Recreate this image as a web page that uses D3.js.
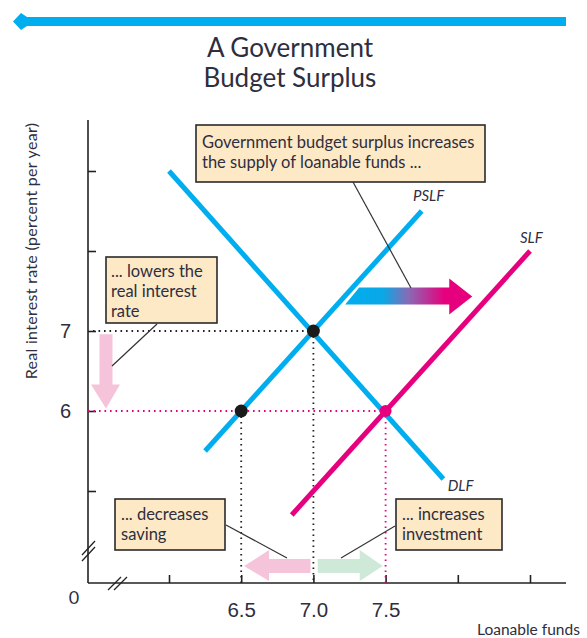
<!DOCTYPE html>
<html>
<head>
<meta charset="utf-8">
<script src="https://cdn.jsdelivr.net/npm/d3@7"></script>
<style>
  html, body { margin: 0; padding: 0; background: #fff; }
  svg { display: block; }
  text { font-family: Lato, "Open Sans", sans-serif; fill: #2e2e3e; }
</style>
</head>
<body>
<svg id="chart" width="587" height="638"></svg>
<script>
// ---- data ----
const xTickValues = [6.0, 6.5, 7.0, 7.5, 8.0, 8.5];
const xTickLabels = ["", "6.5", "7.0", "7.5", "", ""];
const yTickValues = [5, 6, 7, 8, 9];
const yTickLabels = ["", "6", "7", "", ""];

// curves: [loanable funds, real interest rate]
const dlfPoints  = [[6.0, 9.0], [7.9, 5.15]];
const pslfPoints = [[6.25, 5.5], [7.75, 8.5]];
const slfPoints  = [[6.85, 4.7], [8.5, 8.0]];

const curveNames = ["DLF", "PSLF", "SLF"];
const curveLabelAt = [[7.93, 5.0], [7.69, 8.62], [8.43, 8.1]];

// equilibria before and after the surplus
const oldEq = { x: 7.0, y: 7 };
const privateSaving = { x: 6.5, y: 6 };
const newEq = { x: 7.5, y: 6 };

// ---- layout ----
const svg = d3.select("#chart");
const axisX = 88, axisTop = 120, axisBottom = 583, axisRight = 566;

const x = d3.scaleLinear().domain([6.0, 8.5]).range([169, 530]);
const y = d3.scaleLinear().domain([5, 9]).range([491, 171]);

const BLUE = "#00aeef", PINK = "#e6007e", BOX = "#fde9c6", INK = "#2e2e3e";

// header bar with arrow point on the left
svg.append("path")
  .attr("d", "M13,21.5 L21,13 L27,17 L566,17 L566,26 L27,26 L21,30 Z")
  .attr("fill", BLUE);

// title
const title = svg.append("text")
  .attr("text-anchor", "middle")
  .style("font-size", "26px")
  .style("font-family", "Lato, sans-serif");
title.append("tspan").attr("x", 290).attr("y", 57).text("A Government");
title.append("tspan").attr("x", 290).attr("y", 87).text("Budget Surplus");

// axis lines
svg.append("line").attr("x1", axisX).attr("x2", axisX)
  .attr("y1", axisTop).attr("y2", axisBottom)
  .attr("stroke", "#222").attr("stroke-width", 1.6);
svg.append("line").attr("x1", axisX).attr("x2", axisRight)
  .attr("y1", axisBottom).attr("y2", axisBottom)
  .attr("stroke", "#222").attr("stroke-width", 1.6);

// axis breaks
const breaks = svg.append("g").attr("stroke", "#222").attr("stroke-width", 1.3);
[0, 6].forEach(o => {
  breaks.append("line").attr("x1", 82).attr("y1", 555 + o).attr("x2", 95).attr("y2", 541 + o);
  breaks.append("line").attr("x1", 108 + o).attr("y1", 590).attr("x2", 121 + o).attr("y2", 577);
});

// y axis ticks
const yAxis = d3.axisLeft(y)
  .tickValues(yTickValues)
  .tickFormat((d, i) => yTickLabels[i])
  .tickSize(-8)
  .tickPadding(17);
const gy = svg.append("g").attr("transform", `translate(${axisX},0)`).call(yAxis);
gy.select(".domain").remove();
gy.selectAll(".tick line").attr("stroke", "#222").attr("stroke-width", 1.6);
gy.selectAll(".tick text")
  .style("font-family", "'Liberation Sans', Arial, sans-serif")
  .style("font-size", "20px").attr("fill", INK);

// x axis ticks
const xAxis = d3.axisBottom(x)
  .tickValues(xTickValues)
  .tickFormat((d, i) => xTickLabels[i])
  .tickSize(-8)
  .tickPadding(19);
const gx = svg.append("g").attr("transform", `translate(0,${axisBottom})`).call(xAxis);
gx.select(".domain").remove();
gx.selectAll(".tick line").attr("stroke", "#222").attr("stroke-width", 1.6);
gx.selectAll(".tick text")
  .style("font-family", "'Liberation Sans', Arial, sans-serif")
  .style("font-size", "20.5px").attr("fill", INK);

// origin and axis titles
svg.append("text").attr("x", 74).attr("y", 604).attr("text-anchor", "middle")
  .style("font-size", "18px").text("0");
svg.append("text").attr("x", 477).attr("y", 635)
  .style("font-size", "15.5px").text("Loanable funds");
svg.append("text")
  .attr("transform", `translate(37,${(122 + 380) / 2}) rotate(-90)`)
  .attr("text-anchor", "middle")
  .style("font-size", "16px")
  .style("letter-spacing", "0.3px")
  .text("Real interest rate (percent per year)");

// dotted guide lines
const dotted = (x1, y1, x2, y2, color) =>
  svg.append("line").attr("x1", x1).attr("y1", y1).attr("x2", x2).attr("y2", y2)
    .attr("stroke", color).attr("stroke-width", 1.8)
    .attr("stroke-dasharray", "1.6,3.9");
dotted(axisX + 5, y(oldEq.y), x(oldEq.x), y(oldEq.y), "#222");
dotted(x(oldEq.x), y(oldEq.y), x(oldEq.x), axisBottom, "#222");
dotted(x(privateSaving.x), y(privateSaving.y), x(privateSaving.x), axisBottom, "#222");
dotted(axisX, y(newEq.y), x(newEq.x), y(newEq.y), PINK);
dotted(x(newEq.x), y(newEq.y), x(newEq.x), axisBottom, PINK);

// curves
const line = d3.line().x(d => x(d[0])).y(d => y(d[1]));
[[dlfPoints, BLUE], [pslfPoints, BLUE], [slfPoints, PINK]].forEach(([pts, c]) => {
  svg.append("path").attr("d", line(pts)).attr("fill", "none")
    .attr("stroke", c).attr("stroke-width", 5);
});

// curve labels
curveNames.forEach((n, i) => {
  svg.append("text")
    .attr("x", x(curveLabelAt[i][0])).attr("y", y(curveLabelAt[i][1]))
    .style("font-size", "15px").style("font-style", "italic")
    .text(n);
});

// equilibrium points
svg.append("circle").attr("cx", x(oldEq.x)).attr("cy", y(oldEq.y)).attr("r", 6.5).attr("fill", "#1b1b1b");
svg.append("circle").attr("cx", x(privateSaving.x)).attr("cy", y(privateSaving.y)).attr("r", 6.5).attr("fill", "#1b1b1b");
svg.append("circle").attr("cx", x(newEq.x)).attr("cy", y(newEq.y)).attr("r", 6).attr("fill", PINK);

// shift arrow from PSLF to SLF, blending blue into pink
const defs = svg.append("defs");
const grad = defs.append("linearGradient").attr("id", "shiftGrad")
  .attr("gradientUnits", "userSpaceOnUse")
  .attr("x1", x(7.22)).attr("x2", x(8.1)).attr("y1", 0).attr("y2", 0);
[[0, BLUE], [0.3, "#0aa7e6"], [0.5, "#8a6ab4"], [0.78, PINK], [1, PINK]].forEach(([o, c]) =>
  grad.append("stop").attr("offset", o).attr("stop-color", c));

const arrowY = y(7.43);
const ax0 = x(7.22), ax1 = x(8.1);
svg.append("path")
  .attr("d", `M${ax0 + 14},${arrowY - 9} L${ax1 - 23},${arrowY - 9} L${ax1 - 23},${arrowY - 18}
              L${ax1},${arrowY} L${ax1 - 23},${arrowY + 18} L${ax1 - 23},${arrowY + 8}
              L${ax0},${arrowY + 8} Z`)
  .attr("fill", "url(#shiftGrad)");

// interest rate falls: pink down arrow
const dx = 106, dTop = y(6.96), dTip = y(6.03);
svg.append("path")
  .attr("d", `M${dx - 6.5},${dTop} L${dx + 6.5},${dTop} L${dx + 6.5},${dTip - 24}
              L${dx + 14},${dTip - 24} L${dx},${dTip} L${dx - 15},${dTip - 24}
              L${dx - 6.5},${dTip - 24} Z`)
  .attr("fill", "#f5c4da");

// saving falls / investment rises arrows
const hy = 566;
const sL = x(6.52), sR = x(6.98);
svg.append("path")
  .attr("d", `M${sR},${hy - 7} L${sL + 25},${hy - 7} L${sL + 25},${hy - 16} L${sL},${hy}
              L${sL + 25},${hy + 15} L${sL + 25},${hy + 7} L${sR},${hy + 7} Z`)
  .attr("fill", "#f5c4da");
const iL = x(7.03), iR = x(7.48);
svg.append("path")
  .attr("d", `M${iL},${hy - 7} L${iR - 23},${hy - 7} L${iR - 23},${hy - 16} L${iR},${hy}
              L${iR - 23},${hy + 15} L${iR - 23},${hy + 7} L${iL},${hy + 7} Z`)
  .attr("fill", "#cfe9d8");

// annotation boxes with leader lines
const notes = [
  { box: [196, 125, 289, 57], lines: ["Government budget surplus increases", "the supply of loanable funds ..."],
    tx: 202, ty: 148, lead: [353, 182, 411, 288] },
  { box: [106, 257, 111, 66], lines: ["... lowers the", "real interest", "rate"],
    tx: 111, ty: 277, lead: [157, 324, 112, 366] },
  { box: [115, 499, 110, 51], lines: ["... decreases", "saving"],
    tx: 121, ty: 520, lead: [226, 525, 287, 558] },
  { box: [396, 499, 106, 51], lines: ["... increases", "investment"],
    tx: 402, ty: 520, lead: [395, 526, 341, 558] }
];
notes.forEach(n => {
  svg.append("line")
    .attr("x1", n.lead[0]).attr("y1", n.lead[1]).attr("x2", n.lead[2]).attr("y2", n.lead[3])
    .attr("stroke", "#333").attr("stroke-width", 1.2);
  svg.append("rect")
    .attr("x", n.box[0]).attr("y", n.box[1]).attr("width", n.box[2]).attr("height", n.box[3])
    .attr("fill", BOX).attr("stroke", "#2a2a2a").attr("stroke-width", 1.6);
  const t = svg.append("text").style("font-size", "16.5px");
  n.lines.forEach((s, i) =>
    t.append("tspan").attr("x", n.tx).attr("y", n.ty + i * 20).text(s));
});
</script>
</body>
</html>
